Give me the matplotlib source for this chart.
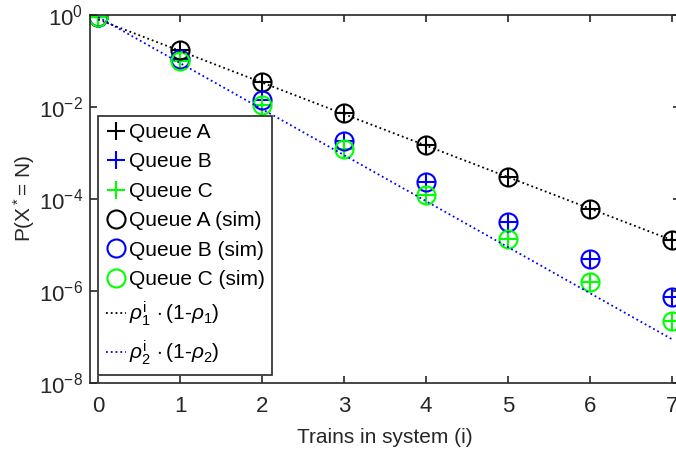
import matplotlib
matplotlib.use("Agg")
import matplotlib.pyplot as plt
from matplotlib.ticker import NullLocator

# values
trains = [0, 1, 2, 3, 4, 5, 6, 7]

queue_a = [0.9, 0.17, 0.035, 7.4e-3, 1.5e-3, 3.0e-4, 6.0e-5, 1.3e-5]
queue_b = [0.9, 0.11, 0.014, 1.8e-3, 2.3e-4, 3.2e-5, 5.0e-6, 7.4e-7]
queue_c = [0.9, 0.10, 0.011, 1.2e-3, 1.2e-4, 1.35e-5, 1.6e-6, 2.2e-7]

queue_a_sim = [0.9, 0.17, 0.035, 7.4e-3, 1.5e-3, 3.0e-4, 6.0e-5, 1.3e-5]
queue_b_sim = [0.9, 0.11, 0.014, 1.8e-3, 2.3e-4, 3.2e-5, 5.0e-6, 7.4e-7]
queue_c_sim = [0.9, 0.10, 0.011, 1.2e-3, 1.2e-4, 1.35e-5, 1.6e-6, 2.2e-7]

theory_rho1 = [0.8, 0.165, 0.034, 7.0e-3, 1.45e-3, 3.0e-4, 6.2e-5, 1.28e-5]
theory_rho2 = [0.9, 0.09, 9e-3, 9e-4, 9e-5, 9e-6, 9e-7, 9e-8]

x_ticks = [0, 1, 2, 3, 4, 5, 6, 7]
y_ticks = [1e-8, 1e-6, 1e-4, 1e-2, 1e0]
y_tick_labels = ["$10^{-8}$", "$10^{-6}$", "$10^{-4}$", "$10^{-2}$", "$10^{0}$"]

plt.rcParams["font.family"] = ["Liberation Sans", "DejaVu Sans"]
plt.rcParams["mathtext.fontset"] = "custom"
plt.rcParams["mathtext.rm"] = "Liberation Sans"
plt.rcParams["mathtext.it"] = "Liberation Sans:italic"
plt.rcParams["mathtext.bf"] = "Liberation Sans:bold"
plt.rcParams["axes.unicode_minus"] = False

dark = "#262626"
fs = 15
tick_fs = 16

fig = plt.figure(figsize=(6.76, 4.53), dpi=100)
ax = fig.add_axes([90 / 676, 70 / 453, 590 / 676, 368 / 453])

ms = 13
ax.plot(trains, queue_a, "+", color="black", ms=ms, mew=1.5, label="Queue A")
ax.plot(trains, queue_b, "+", color="#0000ff", ms=ms, mew=1.5, label="Queue B")
ax.plot(trains, queue_c, "+", color="#00ff00", ms=ms, mew=1.5, label="Queue C")
ax.plot(trains, queue_a_sim, "o", mfc="none", mec="black", ms=ms, mew=1.5,
        label="Queue A (sim)")
ax.plot(trains, queue_b_sim, "o", mfc="none", mec="#0000ff", ms=ms, mew=1.5,
        label="Queue B (sim)")
ax.plot(trains, queue_c_sim, "o", mfc="none", mec="#00ff00", ms=ms, mew=1.5,
        label="Queue C (sim)")
ax.plot(trains, theory_rho1, ":", color="black", lw=1.3,
        label=r"$\rho_1^{\mathrm{i}}\,\cdot(1\text{-}\rho_1)$")
ax.plot(trains, theory_rho2, ":", color="#0000ff", lw=1.3,
        label=r"$\rho_2^{\mathrm{i}}\,\cdot(1\text{-}\rho_2)$")

ax.set_yscale("log")
ax.set_xlim(-0.1, 7.1)
ax.set_ylim(1e-8, 1)
ax.set_xticks(x_ticks)
ax.set_yticks(y_ticks)
ax.set_yticklabels(y_tick_labels)
ax.yaxis.set_minor_locator(NullLocator())

for s in ax.spines.values():
    s.set_color(dark)
    s.set_linewidth(1.2)
ax.tick_params(axis="both", which="major", direction="in", length=5, width=1.2,
               top=True, right=True, colors=dark, labelsize=tick_fs, labelcolor=dark)
ax.tick_params(axis="x", pad=9)
ax.tick_params(axis="y", pad=5)

ax.set_xlabel("Trains in system (i)", fontsize=fs, color=dark, labelpad=8)
ax.set_ylabel(r"P(X$^*$= N)", fontsize=fs, color=dark, labelpad=1)

leg = ax.legend(loc="lower left", fontsize=fs, handlelength=1.0, handletextpad=0.1,
                borderaxespad=0.4, borderpad=0.35, labelspacing=0.5,
                fancybox=False, framealpha=1, edgecolor=dark)
leg.get_frame().set_linewidth(1.2)

fig.savefig("out.png", dpi=100)
